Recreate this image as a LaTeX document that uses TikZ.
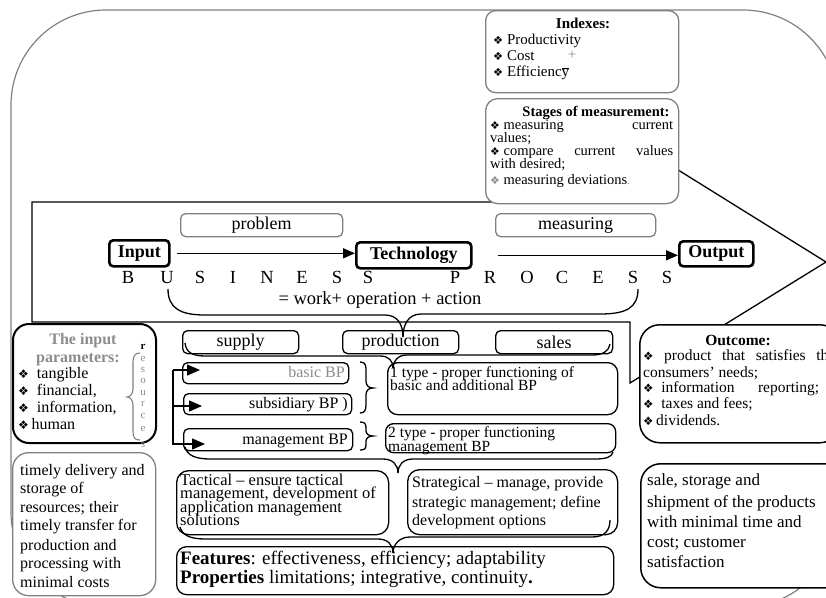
\documentclass[tikz,border=0pt]{standalone}
\usepackage{fontspec}
\setmainfont{Liberation Serif}
\newfontfamily\symfont{DejaVu Sans}
\usepackage{graphicx}
\usetikzlibrary{arrows.meta}
\newcommand{\fz}[1]{\fontsize{#1}{#1}\selectfont}
\newcommand{\bul}{{\symfont\scalebox{0.75}{❖}}}
\definecolor{framegray}{gray}{0.5}
\definecolor{txtgray}{gray}{0.55}
\begin{document}
\begin{tikzpicture}[x=1pt,y=-1pt,
  bx/.style={draw, line width=1.3pt, fill=white, rounded corners=5pt, inner sep=0pt, anchor=north west},
  gbx/.style={bx, draw=framegray},
  tbx/.style={bx, line width=2.6pt, rounded corners=4pt},
  ln/.style={anchor=base west, inner sep=0pt},
  lnc/.style={anchor=base, inner sep=0pt},
  lne/.style={anchor=base east, inner sep=0pt},
  brc/.style={line width=1.3pt},
  arr/.style={line width=1.5pt, -{Triangle[length=12pt,width=10pt]}},
  bparr/.style={line width=1.5pt, -{Triangle[length=13pt,width=11pt]}},
]
\path[use as bounding box] (0,0) rectangle (826,597);
\clip (0,0) rectangle (826,597);
% outer frame
\draw[framegray, line width=1.2pt, rounded corners=95pt] (11,10) rectangle (838,607);
% big arrow
\draw[line width=1.3pt, line join=miter] (32,202) -- (630,202) -- (630,140) -- (826,262) -- (630,383) -- (630,322) -- (32,322) -- cycle;

% indexes
\node[gbx, rounded corners=10pt, minimum width=193, minimum height=82] (idx) at (485,10) {};
\node[lnc, font=\bfseries\fz{15}] (idxh) at (583,28) {Indexes:};
\node[ln, font=\fz{15}] (ix1) at (493,44) {\bul\ Productivity};
\node[ln, font=\fz{15}] (ix2) at (493,60) {\bul\ Cost};
\node[lnc, font=\fz{15}, text=txtgray] (ix2p) at (572,59) {+};
\node[ln, font=\fz{15}] (ix3) at (493,76) {\bul\ Efficienc$\overline{\mbox{y}}$};

% stages
\node[gbx, rounded corners=12pt, minimum width=193, minimum height=105] (stg) at (485,98) {};
\node[lnc, font=\bfseries\fz{14.5}] (stgh) at (596,116) {Stages of measurement:};
\node[ln, font=\fz{14.5}] (st1) at (490,129) {\hbox to 183pt{\bul\ measuring\hfill current}};
\node[ln, font=\fz{14.5}] (st2) at (490,142) {values;};
\node[ln, font=\fz{14.5}] (st3) at (490,155) {\hbox to 183pt{\bul\ compare\hfill current\hfill values}};
\node[ln, font=\fz{14.5}] (st4) at (490,168) {with desired;};
\node[ln, font=\fz{14.5}] (st5) at (490,184) {{\color{txtgray}\bul}\ measuring deviations{\color{txtgray}\fz{10}.}};

% problem / measuring
\node[gbx, minimum width=162, minimum height=23, font=\fz{18}] (prob) at (180,213) {problem};
\node[gbx, minimum width=160, minimum height=23, font=\fz{18}] (meas) at (495,213) {measuring};

% input / technology / output
\node[tbx, minimum width=60, minimum height=26, font=\bfseries\fz{18}] (inp) at (108,239) {Input};
\node[tbx, minimum width=115, minimum height=26, font=\bfseries\fz{18}] (tech) at (355,241) {Technology};
\node[tbx, minimum width=74, minimum height=25, font=\bfseries\fz{18}] (outp) at (678,240) {Output};
\draw[arr, shorten <=6pt] (inp.east) -- (inp.east -| tech.west);
\draw[arr, shorten <=25pt] (tech.east) -- (tech.east -| outp.west);

% BUSINESS PROCESS
\foreach \c/\x [count=\i] in {B/128,U/167,S/200,I/233,N/267,E/302,S/337,S/368,P/455,R/490,O/527,C/562,E/598,S/633,S/667}
  \node[lnc, font=\fz{18.5}] (bl\i) at (\x,283) {\c};
\node[lnc, font=\fz{18.5}] (eqn) at (380,304) {= work+ operation + action};

% input parameters box
\node[bx, line width=2pt, rounded corners=16pt, minimum width=143, minimum height=119] (ipar) at (12,323) {};
\node[lnc, font=\bfseries\fz{16}, text=txtgray] (ipt1) at (83,344) {The input};
\node[lnc, font=\bfseries\fz{16}, text=txtgray] (ipt2) at (78,362) {parameters:};
\node[ln, font=\fz{16}] (ipi1) at (18,378) {\bul\ \ tangible};
\node[ln, font=\fz{16}] (ipi2) at (18,395) {\bul\ \ financial,};
\node[ln, font=\fz{16}] (ipi3) at (18,412) {\bul\ \ information,};
\node[ln, font=\fz{16}] (ipi4) at (18,429) {\bul\,human};
\draw[framegray, line width=1.1pt] (140,353) .. controls (135,353) and (133,356) .. (133,362) -- (133,389) .. controls (133,394) and (130,397) .. (127,397) .. controls (130,397) and (133,400) .. (133,405) -- (133,432) .. controls (133,438) and (135,440) .. (140,440);
\node[lnc, font=\bfseries\fz{11}] (rs1) at (143,349) {r};
\foreach \c/\y [count=\i] in {e/361,s/372,o/383,u/395,r/406,c/418,e/431,s/447}
  \node[lnc, font=\fz{11}, text=txtgray] (rs\i x) at (143,\y) {\c};

% supply / production / sales
\node[bx, minimum width=116, minimum height=23, font=\fz{18}] (sup) at (182,330) {supply};
\node[bx, minimum width=116, minimum height=23, font=\fz{18}] (prod) at (342,330) {production};
\node[bx, minimum width=117, minimum height=23, font=\fz{18}] (sal) at (495,330) {sales};

% BP boxes
\node[bx, minimum width=166, minimum height=21] (bbp) at (182,362) {};
\node[bx, minimum width=168, minimum height=21] (sbp) at (183,393) {};
\node[bx, minimum width=169, minimum height=22] (mbp) at (183,428) {};
\node[lne, font=\fz{16}, text=txtgray] (bbpt) at (345,377) {basic BP};
\node[lne, font=\fz{16}] (sbpt) at (348,408) {subsidiary BP )};
\node[lne, font=\fz{16}] (mbpt) at (348,444) {management BP};

% type boxes
\node[bx, rounded corners=10pt, minimum width=230, minimum height=52] (ty1) at (387,362) {};
\node[bx, rounded corners=8pt, minimum width=230, minimum height=29] (ty2) at (385,423) {};
\node[ln, font=\fz{15.5}] (ty1a) at (390,377) {1 type - proper functioning of};
\node[ln, font=\fz{15.5}] (ty1b) at (390,390.5) {basic and additional BP};
\node[ln, font=\fz{15.5}] (ty2a) at (388,437) {2 type - proper functioning};
\node[ln, font=\fz{15.5}] (ty2b) at (388,451) {management BP};

% tactical / strategical / features
\node[bx, rounded corners=12pt, minimum width=212, minimum height=64] (tac) at (176,470) {};
\node[bx, rounded corners=12pt, minimum width=210, minimum height=65] (strat) at (407,469) {};
\node[bx, rounded corners=10pt, minimum width=437, minimum height=48] (feat) at (176,546) {};
\foreach \t/\y [count=\i] in {{Tactical -- ensure tactical}/485,{management, development of}/498.5,{application management}/512,{solutions}/525.5}
  \node[ln, font=\fz{16.5}] (tac\i) at (180,\y) {\t};
\foreach \t/\y [count=\i] in {{Strategical -- manage, provide}/487,{strategic management; define}/507,{development options}/525}
  \node[ln, font=\fz{16}] (str\i) at (412,\y) {\t};
\node[ln, font=\fz{19}] (fe1) at (180,564) {\textbf{Features}: effectiveness, efficiency; adaptability};
\node[ln, font=\fz{19}] (fe2) at (180,583) {\textbf{Properties} limitations; integrative, continuity\textbf{.}};

% timely box
\node[gbx, rounded corners=16pt, minimum width=143, minimum height=143] (tim) at (12,452) {};
\foreach \t/\y [count=\i] in {{timely delivery and}/475,{storage of}/493,{resources; their}/512,{timely transfer for}/530,{production and}/550,{processing with}/568,{minimal costs}/587}
  \node[ln, font=\fz{16}] (tim\i) at (20,\y) {\t};

% outcome box
\node[bx, line width=1.5pt, rounded corners=20pt, minimum width=200, minimum height=118] (outc) at (639,324) {};
\node[lnc, font=\bfseries\fz{15.5}] (outh) at (738,345) {Outcome:};
\node[ln, font=\fz{15.5}] (ou1) at (643,360) {\hbox to 192pt{\bul\hfill product\hfill that\hfill satisfies\hfill the}};
\node[ln, font=\fz{15.5}] (ou2) at (643,377) {consumers’ needs;};
\node[ln, font=\fz{15.5}] (ou3) at (643,392) {\hbox to 176pt{\bul\ \ information\hfill reporting;}};
\node[ln, font=\fz{15.5}] (ou4) at (643,408) {\bul\ \ taxes and fees;};
\node[ln, font=\fz{15.5}] (ou5) at (643,425) {\bul\,dividends.};

% sale box
\node[bx, line width=1.5pt, rounded corners=20pt, minimum width=205, minimum height=124] (sale) at (640,463) {};
\foreach \t/\y [count=\i] in {{sale, storage and}/485,{shipment of the products}/507,{with minimal time and}/527,{cost; customer}/547,{satisfaction}/567}
  \node[ln, font=\fz{17}] (sal\i) at (647,\y) {\t};

% BP arrows
\coordinate (a1) at (173,370);
\coordinate (a2) at (173,406);
\coordinate (a3) at (176,444);
\coordinate (a3v) at (173,444);
\coordinate (p1) at (200,370);
\coordinate (p2) at (202,406);
\coordinate (p3) at (205,444);
\draw[line width=1.5pt] (a1) -- (a3v) -- (a3);
\draw[bparr] (a1) -- (p1);
\draw[bparr] (a2) -- (p2);
\draw[bparr] (a3) -- (p3);

% right braces
\draw[brc] (360,362) .. controls (366,362) and (366,366) .. (366,372) -- (366,381) .. controls (366,386) and (369,388) .. (373,388) .. controls (369,388) and (366,390) .. (366,395) -- (366,405) .. controls (366,411) and (364,413) .. (360,413);
\draw[brc] (360,422) .. controls (365,422) and (366,424) .. (366,428) -- (366,431) .. controls (366,434) and (369,436) .. (373,436) .. controls (369,436) and (366,438) .. (366,441) -- (366,445) .. controls (366,449) and (364,450) .. (360,450);

% top brace (BUSINESS PROCESS)
\coordinate (bu) at (168,289);
\coordinate (bs) at (638,289);
\coordinate (btip) at (403,337);
\draw[brc] (bu) .. controls (168,308) and (180,315) .. (205,315) -- (385,315) .. controls (398,315) and (403,325) .. (btip);
\draw[brc] (bs) .. controls (638,308) and (626,314) .. (600,314) -- (421,314) .. controls (408,314) and (403,325) .. (btip);

% supply brace
\coordinate (sb1) at (185,343);
\coordinate (sb2) at (610,344);
\coordinate (sbt) at (393,368);
\draw[brc] (sb1) .. controls (186,352) and (192,356) .. (205,356) -- (380,356) .. controls (389,356) and (393,361) .. (sbt);
\draw[brc] (sb2) .. controls (609,351) and (603,355) .. (592,355) -- (407,355) .. controls (398,355) and (393,361) .. (sbt);

% management brace
\coordinate (mb1) at (185,447);
\coordinate (mb2) at (613,452);
\coordinate (mbt) at (398,473);
\draw[brc] (mb1) .. controls (187,455) and (195,459) .. (210,459) -- (383,459) .. controls (393,459) and (398,465) .. (mbt);
\draw[brc] (mb2) .. controls (612,457) and (606,459) .. (595,459) -- (413,459) .. controls (403,459) and (398,465) .. (mbt);

% tactical brace
\coordinate (tb1) at (180,527);
\coordinate (tb2) at (610,520);
\coordinate (tbt) at (393,553);
\draw[brc] (tb1) .. controls (182,535) and (190,539) .. (205,539) -- (378,539) .. controls (388,539) and (393,545) .. (tbt);
\draw[brc] (tb2) .. controls (610,530) and (605,537) .. (592,537) -- (410,537) .. controls (399,537) and (393,545) .. (tbt);
\end{tikzpicture}
\end{document}
